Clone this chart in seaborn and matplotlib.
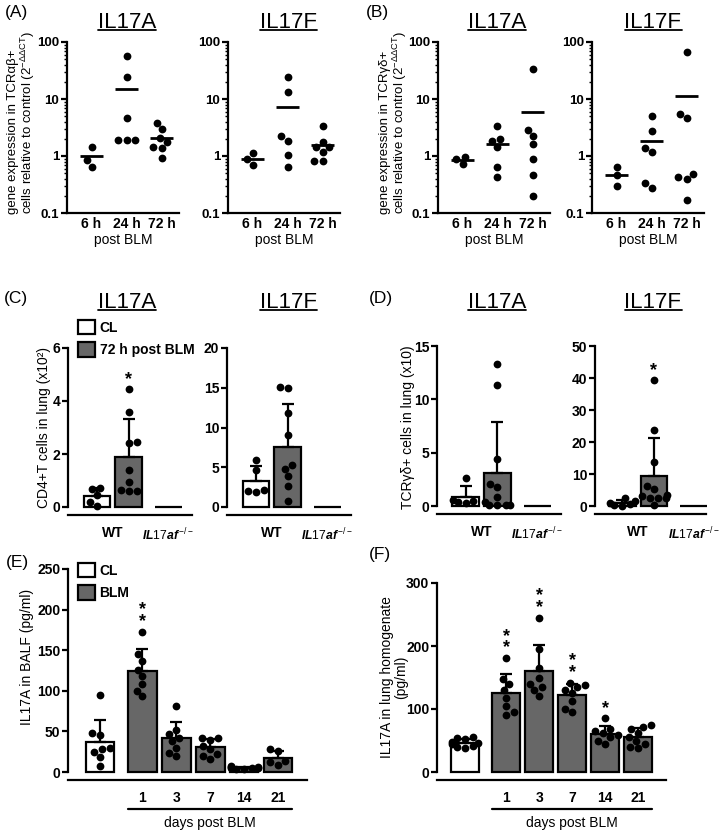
import numpy as np
import pandas as pd
import matplotlib
matplotlib.use("Agg")
import matplotlib.pyplot as plt
import matplotlib.transforms as mtransforms
import seaborn as sns
from matplotlib.patches import Patch
from matplotlib.lines import Line2D
from matplotlib.ticker import LogLocator, NullFormatter

# ---------------- data ----------------
cytokines = ["IL17A", "IL17F"]
time_labels = ["6 h", "24 h", "72 h"]

# (A) TCRab+ cells, fold change (2^-ddCT), one list per time point
a_il17a = [[1.46, 0.85, 0.65],
           [57, 24, 4.7, 1.9, 1.9, 1.9],
           [3.85, 2.95, 2.05, 1.75, 1.45, 1.4, 0.91]]
a_il17f = [[1.14, 0.87, 0.70],
           [24, 13.4, 2.24, 1.83, 1.05, 0.65],
           [3.4, 1.78, 1.46, 1.42, 1.19, 0.83, 0.83]]
# (B) TCRgd+ cells
b_il17a = [[0.97, 0.88, 0.72],
           [3.4, 1.97, 1.84, 1.46, 0.65, 0.42],
           [33, 2.9, 2.25, 1.6, 0.87, 0.46, 0.2]]
b_il17f = [[0.65, 0.47, 0.30],
           [5.0, 2.75, 1.4, 1.19, 0.33, 0.28],
           [66, 5.5, 4.6, 0.48, 0.42, 0.40, 0.17]]

# (C) CD4+T cells in lung (x10^2), (D) TCRgd+ cells in lung (x10)
geno_labels = ["WT", r"$\mathit{IL17af}^{\mathit{-/-}}$"]
ko_value = [0.0]
c_il17a_cl = [0.72, 0.68, 0.45, 0.2, 0.05]
c_il17a_blm = [4.45, 3.6, 2.45, 2.4, 1.4, 0.95, 0.65, 0.6, 0.6]
c_il17f_cl = [5.9, 4.6, 2.1, 2.0, 1.9]
c_il17f_blm = [15.1, 15.0, 11.8, 9.0, 5.3, 4.8, 3.9, 2.7, 0.8]
d_il17a_cl = [2.6, 0.6, 0.5, 0.4, 0.3]
d_il17a_blm = [13.3, 11.3, 4.4, 2.1, 1.8, 0.8, 0.4, 0.05, 0.05, 0.05, 0.05]
d_il17f_cl = [2.4, 1.6, 1.0, 0.6, 0.3, 0.1]
d_il17f_blm = [39.3, 23.7, 13.7, 6.3, 5.3, 3.3, 3.0, 2.6, 2.5, 2.4, 0.3]
c_il17a_sig = ["", "*"]
c_il17f_sig = ["", ""]
d_il17a_sig = ["", ""]
d_il17f_sig = ["", "*"]

# (E) IL17A in BALF, (F) IL17A in lung homogenate (pg/ml)
days = ["1", "3", "7", "14", "21"]
e_cl = [95, 48, 45, 30, 28, 25, 18, 8]
e_blm = [[173, 145, 137, 126, 118, 108, 100, 93],
         [81, 52, 47, 42, 38, 30, 24, 20],
         [42, 42, 40, 32, 28, 22, 20, 16],
         [7, 6, 6, 5, 5, 5, 4, 4],
         [28, 26, 14, 12, 9]]
f_cl = [56, 54, 52, 48, 46, 44, 42, 40, 38]
f_blm = [[181, 148, 140, 130, 118, 105, 95, 90],
         [245, 195, 165, 150, 140, 135, 130, 120],
         [142, 138, 135, 130, 125, 112, 100, 95],
         [85, 68, 65, 62, 58, 55, 50, 45],
         [75, 72, 68, 62, 55, 50, 45, 40, 38]]
e_sig = ["", "**", "", "", "", ""]
f_sig = ["", "**", "**", "**", "*", ""]

# ---------------- style ----------------
sns.set_style("ticks", rc={"axes.edgecolor": "black", "xtick.color": "black",
                           "ytick.color": "black", "text.color": "black",
                           "axes.labelcolor": "black"})
plt.rcParams["font.family"] = ["Liberation Sans", "DejaVu Sans"]
plt.rcParams["mathtext.fontset"] = "custom"
plt.rcParams["mathtext.rm"] = "Liberation Sans"
plt.rcParams["mathtext.it"] = "Liberation Sans:italic:bold"
plt.rcParams["mathtext.bf"] = "Liberation Sans:bold"
plt.rcParams["axes.linewidth"] = 1.6

GREY = "#676767"
LW = 1.6
BAR_W = 0.84
geno_pos = [0, 1, 2.25]
day_pos = [0, 1.25, 2.25, 3.25, 4.25, 5.25]

W, H = 720, 831
fig = plt.figure(figsize=(W / 100, H / 100), dpi=100)


def px_axes(x0, top, x1, bottom):
    return fig.add_axes([x0 / W, 1 - bottom / H, (x1 - x0) / W, (bottom - top) / H])


def ftext(x, y, s, **kw):
    kw.setdefault("ha", "center")
    kw.setdefault("va", "center")
    return fig.text(x / W, 1 - y / H, s, **kw)


def scatter_panel(ax, groups):
    df = pd.DataFrame({"time": np.repeat(time_labels, [len(g) for g in groups]),
                       "value": np.concatenate(groups)})
    ax.set_yscale("log")
    sns.swarmplot(data=df, x="time", y="value", order=time_labels, color="black",
                  size=5.6, ax=ax)
    means = df.groupby("time")["value"].mean().reindex(time_labels)
    xs = np.arange(len(time_labels))
    ax.hlines(means.values, xs - 0.33, xs + 0.33, colors="black", linewidth=2.0)
    ax.set_ylim(0.1, 100)
    ax.set_xlim(-0.7, 2.5)
    sns.despine(ax=ax)
    ax.set_yticks([0.1, 1, 10, 100], ["0.1", "1", "10", "100"], fontweight="bold", fontsize=9.5)
    ax.yaxis.set_minor_locator(LogLocator(base=10, subs=np.arange(2, 10)))
    ax.yaxis.set_minor_formatter(NullFormatter())
    ax.tick_params(axis="y", which="major", length=4, width=LW, pad=1.5)
    ax.tick_params(axis="y", which="minor", length=2, width=1.0)
    ax.set_xticks(xs, time_labels, fontweight="bold", fontsize=10)
    ax.tick_params(axis="x", length=0, pad=3)
    ax.set_xlabel("post BLM", fontsize=10, labelpad=1)
    ax.set_ylabel("")


def draw_bars(ax, df, palette, sig):
    sns.barplot(data=df, x="pos", y="value", hue="grp", palette=palette, native_scale=True,
                errorbar=None, width=BAR_W, edgecolor="black", linewidth=LW,
                legend=False, ax=ax)
    pts = df[df["grp"] != "KO"]
    st = pts.groupby("pos")["value"].agg(["mean", "std", "max"])
    ax.errorbar(st.index, st["mean"], yerr=[np.zeros(len(st)), st["std"]], fmt="none",
                ecolor="black", elinewidth=LW, capsize=4.5, capthick=LW, zorder=3)
    sns.swarmplot(data=pts, x="pos", y="value", native_scale=True, color="black",
                  size=5.6, ax=ax, zorder=4)
    for (p, row), s in zip(st.iterrows(), sig):
        if s:
            ax.annotate(s.replace("**", "*\n*"), xy=(p, row["max"]), xytext=(0, 1),
                        textcoords="offset points", ha="center", va="bottom",
                        fontsize=13, fontweight="bold", linespacing=0.6)


def style_bar_axis(ax, ymax, yticks, xlim):
    sns.despine(ax=ax)
    ax.set_ylim(0, ymax)
    ax.set_xlim(*xlim)
    ax.set_yticks(yticks, [str(t) for t in yticks], fontweight="bold", fontsize=10)
    ax.spines["left"].set_bounds(0, ymax)
    ax.spines["bottom"].set_position(("outward", 6))
    ax.tick_params(axis="y", length=4, width=LW, pad=1.5)
    ax.tick_params(axis="x", length=0, pad=8)
    ax.set_xlabel("")
    ax.set_ylabel("")
    for art in [*ax.patches, *ax.collections, *ax.lines]:
        art.set_clip_on(False)


def geno_panel(ax, cl, blm, sig, ymax, yticks, xlim):
    vals = [cl, blm, ko_value]
    n = [len(v) for v in vals]
    df = pd.DataFrame({"pos": np.repeat(geno_pos, n),
                       "grp": np.repeat(["CL", "BLM", "KO"], n),
                       "value": np.concatenate(vals)})
    draw_bars(ax, df, {"CL": "white", "BLM": GREY, "KO": "white"}, sig)
    style_bar_axis(ax, ymax, yticks, xlim)
    ax.set_xticks([np.mean(geno_pos[:2]), geno_pos[2]], geno_labels,
                  fontweight="bold", fontsize=10)
    ax.get_xticklabels()[1].set_fontsize(8.8)


def day_panel(ax, cl, blm, sig, ymax, yticks, xlim):
    vals = [cl] + blm
    n = [len(v) for v in vals]
    df = pd.DataFrame({"pos": np.repeat(day_pos, n),
                       "grp": np.repeat(["CL"] + ["BLM"] * len(blm), n),
                       "value": np.concatenate(vals)})
    draw_bars(ax, df, {"CL": "white", "BLM": GREY}, sig)
    style_bar_axis(ax, ymax, yticks, xlim)
    ax.set_xticks(day_pos[1:], days, fontweight="bold", fontsize=10)
    base = mtransforms.blended_transform_factory(ax.transData, ax.transAxes)
    line_tr = base + mtransforms.ScaledTranslation(0, -0.37, fig.dpi_scale_trans)
    text_tr = base + mtransforms.ScaledTranslation(0, -0.51, fig.dpi_scale_trans)
    x0, x1 = day_pos[1] - BAR_W / 2, day_pos[-1] + BAR_W / 2
    ax.plot([x0, x1], [0, 0], transform=line_tr, color="black", lw=LW, clip_on=False)
    ax.text((x0 + x1) / 2, 0, "days post BLM", transform=text_tr, ha="center",
            va="center", fontsize=10)


def legend_at(ax, x, y, labels):
    handles = [Patch(facecolor=c, edgecolor="black", linewidth=LW, label=l)
               for c, l in zip(["white", GREY], labels)]
    ax.legend(handles=handles, loc="upper left", bbox_to_anchor=(x / W, 1 - y / H),
              bbox_transform=fig.transFigure, frameon=False, handlelength=1.2,
              handleheight=1.2, handletextpad=0.35, labelspacing=0.55,
              borderaxespad=0, borderpad=0, prop={"weight": "bold", "size": 10})


# ---------------- (A) and (B) ----------------
ab_axes = [px_axes(67, 42, 179, 213), px_axes(228, 42, 340, 213),
           px_axes(438, 42, 550, 213), px_axes(592, 42, 704, 213)]
for ax, groups in zip(ab_axes, [a_il17a, a_il17f, b_il17a, b_il17f]):
    scatter_panel(ax, groups)

expr_label = "cells relative to control (2$^{\\mathrm{-ΔΔCT}}$)"
ftext(22, 214, "gene expression in TCRαβ+\n" + expr_label, rotation=90,
      va="bottom", multialignment="left", fontsize=9.5, linespacing=1.0)
ftext(394, 214, "gene expression in TCRγδ+\n" + expr_label, rotation=90,
      va="bottom", multialignment="left", fontsize=9.5, linespacing=1.0)

# ---------------- (C) and (D) ----------------
c_l = px_axes(68, 348, 192, 507)
c_r = px_axes(227, 348, 351, 507)
d_l = px_axes(437, 346, 561, 506)
d_r = px_axes(595, 346, 706, 506)
geno_panel(c_l, c_il17a_cl, c_il17a_blm, c_il17a_sig, 6, [0, 2, 4, 6], (-0.92, 3.0))
geno_panel(c_r, c_il17f_cl, c_il17f_blm, c_il17f_sig, 20, [0, 5, 10, 15, 20], (-0.92, 3.0))
geno_panel(d_l, d_il17a_cl, d_il17a_blm, d_il17a_sig, 15, [0, 5, 10, 15], (-0.9, 3.0))
geno_panel(d_r, d_il17f_cl, d_il17f_blm, d_il17f_sig, 50, [0, 10, 20, 30, 40, 50], (-0.87, 2.65))
legend_at(c_l, 78, 320, ["CL", "72 h post BLM"])
ftext(44, 427, "CD4+T cells in lung (x10²)", rotation=90, fontsize=10)
ftext(408, 427, "TCRγδ+ cells in lung (x10)", rotation=90, fontsize=10)

# ---------------- (E) and (F) ----------------
e_ax = px_axes(68, 569, 307, 772)
f_ax = px_axes(437, 583, 666, 772)
day_panel(e_ax, e_cl, e_blm, e_sig, 250, [0, 50, 100, 150, 200, 250], (-0.94, 6.1))
day_panel(f_ax, f_cl, f_blm, f_sig, 300, [0, 100, 200, 300], (-0.85, 6.1))
legend_at(e_ax, 78, 563, ["CL", "BLM"])
ftext(27, 657, "IL17A in BALF (pg/ml)", rotation=90, fontsize=10)
ftext(394, 677, "IL17A in lung homogenate\n(pg/ml)", rotation=90, fontsize=10,
      multialignment="center", linespacing=1.05)

# ---------------- titles and panel letters ----------------
titles = []
for y in (22, 302):
    for x, name in zip((127, 288, 497, 653), cytokines * 2):
        titles.append(ftext(x, y, name, fontsize=16))
for s, x, y in [("(A)", 16, 12), ("(B)", 377, 12), ("(C)", 16, 298),
                ("(D)", 381, 298), ("(E)", 17, 563), ("(F)", 380, 555)]:
    ftext(x, y, s, fontsize=12.5)

fig.canvas.draw()
renderer = fig.canvas.get_renderer()
for t in titles:
    bb = t.get_window_extent(renderer)
    yl = (bb.y0 + 2.5) / H
    fig.add_artist(Line2D([bb.x0 / W, bb.x1 / W], [yl, yl], transform=fig.transFigure,
                          color="black", lw=1.3))

fig.savefig("out.png", dpi=100)
